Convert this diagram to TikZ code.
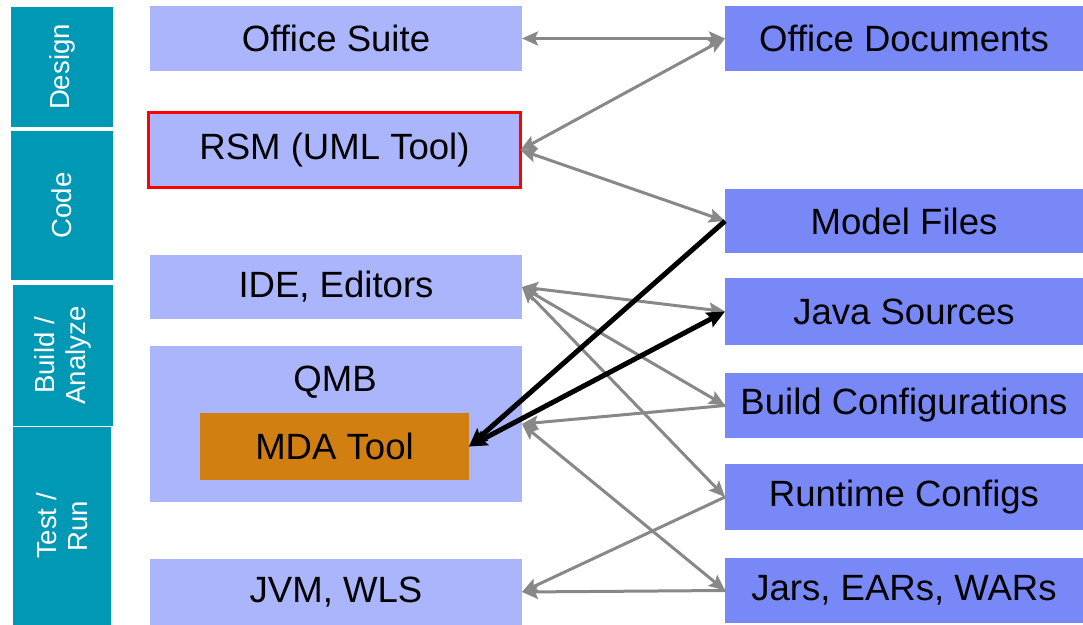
\documentclass[tikz,border=0pt]{standalone}
\usepackage{fontspec}
\setmainfont{Liberation Sans}
\usepackage{xcolor}
\usetikzlibrary{arrows.meta,shapes,calc}

\definecolor{phaseteal}{RGB}{0,153,181}
\definecolor{toolblue}{RGB}{170,181,252}
\definecolor{fileblue}{RGB}{120,136,246}
\definecolor{mdaorange}{RGB}{210,127,18}
\definecolor{linkgray}{RGB}{136,136,136}

\begin{document}
\begin{tikzpicture}[x=0.02cm,y=-0.02cm]
            \tikzset{phase/.style = {fill=phaseteal, text=white, rotate=90, inner sep=0pt, outer sep=0pt, align=center, font=\fontsize{15.7}{18}\selectfont}}
            \tikzset{tool/.style = {fill=toolblue, minimum width=7.44cm, inner sep=0pt, outer sep=0pt, font=\fontsize{20.8}{24}\selectfont}}
            \tikzset{artefact/.style = {fill=fileblue, minimum width=7.16cm, inner sep=0pt, outer sep=0pt, font=\fontsize{20.8}{24}\selectfont}}
            \tikzset{link/.style = {draw=linkgray, line width=0.06cm, {Stealth[length=0.32cm,width=0.28cm,inset=0.06cm]}-{Stealth[length=0.32cm,width=0.28cm,inset=0.06cm]}}}
            \tikzset{linkto/.style = {draw=linkgray, line width=0.06cm, -{Stealth[length=0.32cm,width=0.28cm,inset=0.06cm]}}}
            \tikzset{mdalink/.style = {draw=black, line width=0.1cm, {Stealth[length=0.36cm,width=0.32cm,inset=0.06cm]}-{Stealth[length=0.36cm,width=0.32cm,inset=0.06cm]}}}
            \useasboundingbox (0,0) rectangle (1083,625);

            % phases
            \node[phase, minimum width=2.4cm, minimum height=2.04cm] (design) at (62,67) {Design};
            \node[phase, minimum width=2.98cm, minimum height=2.04cm] (code) at (62,205.5) {Code};
            \node[phase, minimum width=2.82cm, minimum height=2.0cm] (build) at (63,355.5) {Build /\\Analyze};
            \node[phase, minimum width=3.96cm, minimum height=1.96cm] (test) at (62,526) {Test /\\Run};

            % tools
            \node[tool, minimum height=1.30cm] (osuite) at (336,38.5) {Office Suite};
            \node[tool, minimum height=1.5cm, draw=red, line width=0.06cm] (rsm) at (334.5,150) {RSM (UML Tool)};
            \node[tool, minimum height=1.28cm] (ide) at (336,287) {IDE, Editors};
            \node[tool, minimum height=3.12cm] (qmb) at (336,424) {};
            \node[font=\fontsize{20.8}{24}\selectfont] (qmbtext) at (335,382) {QMB};
            \node[fill=mdaorange, minimum width=5.38cm, minimum height=1.34cm, inner sep=0pt, outer sep=0pt, font=\fontsize{20.8}{24}\selectfont] (mda) at (334.5,446.5) {MDA Tool};
            \node[tool, minimum height=1.32cm] (jvm) at (336,592) {JVM, WLS};

            % files
            \foreach \name/\y/\h/\txt in {odoc/38.5/1.30/Office Documents, model/221/1.28/Model Files, java/311.5/1.34/Java Sources, bconf/405.5/1.30/Build Configurations, rconf/497/1.32/Runtime Configs, jars/590.5/1.30/{Jars, EARs, WARs}}
            {
              \node[artefact, minimum height=\h cm] (\name) at (904,\y) {\txt};
            }

            % edges
            \draw[link] (osuite.east) -- (odoc.west);
            \draw[link] (rsm.east) -- (odoc.west);
            \draw[link] (rsm.east) -- (model.west);
            \foreach \y in {java,bconf,rconf} {\draw[link] (ide.east) -- (\y.west);}
            \draw[linkto] (bconf.west) -- (qmb.east);
            \draw[link] (qmb.east) -- (jars.west);
            \foreach \y in {rconf,jars} {\draw[linkto] (\y.west) -- (jvm.east);}
            \draw[mdalink, {Stealth[length=0.36cm,width=0.32cm,inset=0.06cm]}-] (mda.east) -- (model.west);
            \draw[mdalink] (mda.east) -- (java.west);

          \end{tikzpicture}
\end{document}
